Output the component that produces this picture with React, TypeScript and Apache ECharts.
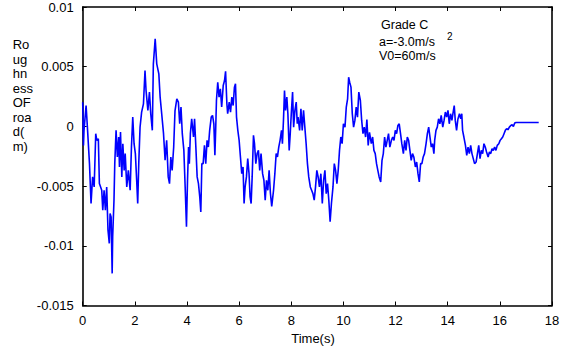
import React, { useEffect, useRef } from "react";
import * as echarts from "echarts";

// Road roughness profile sampled over time (roughness in mm, converted to m below)
const timeS: number[] = [
  0, 0.03, 0.05, 0.13, 0.18, 0.26, 0.32, 0.38, 0.44, 0.5, 0.54, 0.6, 0.64, 0.73, 0.77, 0.82, 0.87, 0.92, 0.97,
  1.02, 1.05, 1.09, 1.13, 1.15, 1.2, 1.23, 1.28, 1.33, 1.38, 1.41, 1.45, 1.5, 1.54, 1.59, 1.63, 1.69, 1.75,
  1.82, 1.87, 1.92, 1.97, 2.02, 2.07, 2.11, 2.15, 2.2, 2.26, 2.33, 2.39, 2.43, 2.5, 2.56, 2.61, 2.67, 2.71,
  2.78, 2.84, 2.92, 2.97, 3.03, 3.1, 3.16, 3.22, 3.28, 3.33, 3.38, 3.43, 3.49, 3.54, 3.61, 3.67, 3.72, 3.77,
  3.82, 3.88, 3.93, 3.98, 4.02, 4.06, 4.09, 4.13, 4.18, 4.25, 4.29, 4.34, 4.39, 4.44, 4.49, 4.53, 4.57, 4.62,
  4.67, 4.72, 4.77, 4.82, 4.87, 4.93, 4.98, 5.03, 5.07, 5.1, 5.13, 5.18, 5.23, 5.28, 5.33, 5.39, 5.44, 5.48,
  5.53, 5.56, 5.62, 5.67, 5.72, 5.77, 5.82, 5.86, 5.9, 5.95, 6.0, 6.05, 6.1, 6.15, 6.19, 6.23, 6.28, 6.33,
  6.38, 6.42, 6.46, 6.5, 6.55, 6.59, 6.64, 6.69, 6.74, 6.79, 6.84, 6.9, 6.95, 7.0, 7.05, 7.1, 7.15, 7.2,
  7.25, 7.32, 7.37, 7.42, 7.47, 7.52, 7.57, 7.625, 7.66, 7.7, 7.74, 7.78, 7.83, 7.87, 7.92, 7.96, 8.0, 8.05,
  8.09, 8.14, 8.19, 8.23, 8.26, 8.32, 8.37, 8.42, 8.47, 8.52, 8.57, 8.62, 8.67, 8.73, 8.78, 8.83, 8.88, 8.93,
  8.98, 9.03, 9.08, 9.135, 9.19, 9.24, 9.29, 9.34, 9.39, 9.44, 9.49, 9.54, 9.6, 9.65, 9.7, 9.75, 9.8, 9.85,
  9.9, 9.95, 10.0, 10.06, 10.11, 10.16, 10.2, 10.24, 10.29, 10.34, 10.39, 10.44, 10.49, 10.54, 10.59, 10.65,
  10.7, 10.75, 10.8, 10.85, 10.9, 10.95, 11.0, 11.07, 11.12, 11.17, 11.22, 11.27, 11.32, 11.37, 11.43, 11.48,
  11.53, 11.58, 11.63, 11.68, 11.73, 11.78, 11.84, 11.89, 11.94, 11.99, 12.04, 12.09, 12.14, 12.19, 12.24,
  12.3, 12.35, 12.4, 12.45, 12.5, 12.55, 12.6, 12.65, 12.7, 12.76, 12.81, 12.86, 12.91, 12.96, 13.01, 13.06,
  13.11, 13.17, 13.22, 13.27, 13.32, 13.37, 13.42, 13.47, 13.5, 13.55, 13.6, 13.65, 13.7, 13.75, 13.81, 13.86,
  13.91, 13.96, 14.01, 14.06, 14.11, 14.16, 14.22, 14.25, 14.29, 14.34, 14.39, 14.45, 14.5, 14.54, 14.57,
  14.62, 14.68, 14.73, 14.78, 14.83, 14.88, 14.93, 14.98, 15.03, 15.09, 15.14, 15.19, 15.24, 15.29, 15.34,
  15.39, 15.44, 15.49, 15.55, 15.6, 15.65, 15.7, 15.75, 15.8, 15.85, 15.9, 15.96, 16.01, 16.06, 16.11, 16.16,
  16.21, 16.26, 16.31, 16.365, 16.42, 16.47, 16.52, 16.57, 16.62, 17.49,
];

const roughnessMm: number[] = [
  2.03, -1.6, -0.33, 1.75, -0.06, -3.12, -6.46, -4.23, -5.07, -0.61, -1.17, -1.03, -4.79, -5.35, -7.02, -5.35,
  -7.02, -5.07, -8.69, -9.8, -7.3, -7.58, -12.31, -9.25, -6.18, -3.12, -0.33, -2.56, -0.89, -3.4, -0.47, -4.23,
  -1.45, -3.68, -2.28, -5.07, -3.68, -5.35, -1.73, 0.78, -1.45, -2.28, -4.51, -6.46, -3.12, -0.06, 1.2, 1.89,
  4.68, 3.01, 1.34, 2.87, 1.06, -0.33, 5.24, 7.33, 5.24, 4.4, 2.45, 1.06, -0.61, -2.84, -1.17, -4.23, -4.79,
  -2.56, -3.68, -1.73, 1.3, 2.31, 2.03, 0.22, 1.62, -0.61, -2.01, -5.07, -8.41, -4.51, -1.73, -3.12, -0.61,
  0.64, -0.89, 0.64, -1.73, -4.23, -4.79, -5.91, -7.16, -3.12, -3.12, -1.59, -3.12, -1.17, -1.73, -0.33, 0.78,
  0.92, 0.22, -2.42, -0.33, 2.17, 3.7, 2.45, 3.15, 1.62, 3.43, 3.84, 4.62, 1.89, 1.06, 2.03, 1.2, 2.45, 1.75,
  3.29, 3.57, 0.78, -0.33, -1.17, -2.56, -3.96, -3.4, -6.46, -5.07, -4.23, -2.7, -3.96, -5.91, -6.46, -4.23,
  -0.75, -1.45, -3.12, -2.28, -2.01, -3.68, -2.28, -3.96, -4.51, -6.18, -4.51, -5.35, -3.68, -5.6, -6.7,
  -5.35, -3.96, -2.28, -2.56, -1.73, -1.17, -0.33, -1.45, 0.5, 3.01, 1.34, 2.45, 1.06, -2.01, -0.61, 1.06,
  2.87, -0.06, 1.34, 2.03, 0.22, 0.78, -0.33, 1.48, -0.33, 1.34, -0.06, -1.45, -3.12, -4.23, -5.07, -5.35,
  -5.63, -6.18, -5.07, -3.68, -4.23, -5.07, -3.96, -6.46, -4.51, -3.68, -5.63, -4.79, -6.18, -7.99, -6.46,
  -5.07, -3.12, -3.68, -4.79, -3.68, -2.01, -0.89, -1.45, 0.22, -0.06, 1.62, 2.31, 4.12, 3.7, 3.29, 1.06,
  -0.06, 0.5, 1.62, 0.78, 2.87, 2.17, 0.5, -0.61, -0.06, -0.89, 0.57, -1.6, -0.5, -1.45, -0.89, -2.01, -2.28,
  -3.12, -3.68, -4.23, -4.65, -2.84, -2.28, -0.89, -1.73, -1.17, -0.61, -1.73, -1.17, -0.89, -1.17, -0.33,
  -0.61, 0.08, 0.22, -0.61, -1.45, -2.28, -1.17, -2.01, -0.89, -1.17, -2.01, -2.84, -2.28, -2.56, -3.4, -2.98,
  -3.96, -4.65, -3.12, -3.12, -2.56, -2.28, -1.45, -0.61, -0.06, -0.89, -1.73, -1.45, -2.28, -1.17, -0.33,
  -0.06, 0.64, 0.22, 0.92, -0.06, 0.5, 1.2, 0.78, 1.34, 0.22, 1.06, 0.5, 1.34, 1.75, 0.5, -0.33, 0.6, 1.06,
  0.64, 1.06, -0.33, -0.89, -1.59, -2.42, -1.73, -2.28, -1.59, -2.28, -2.7, -3.12, -2.98, -2.28, -1.59, -2.7,
  -2.01, -2.28, -1.45, -1.73, -2.15, -2.56, -2.15, -2.28, -1.87, -2.01, -1.73, -2.01, -1.59, -1.45, -1.17,
  -1.03, -0.89, -0.61, -0.33, -0.19, -0.28, -0.06, 0.08, 0.14, 0.0, 0.28, 0.33, 0.33,
];

const xTicks = { min: 0, max: 18, interval: 2 };
const yTicks = { min: -0.015, max: 0.01, interval: 0.005 };

const yAxisTitle = ["Ro", "ug", "hn", "ess", "OF", "roa", "d(", "m)"];
const xAxisTitle = "Time(s)";
const noteLines = ["Grade C", "a=-3.0m/s", "V0=60m/s"];

const FONT = "'Liberation Sans', Arial, sans-serif";

export default function App() {
  const ref = useRef<HTMLDivElement>(null);

  useEffect(() => {
    if (!ref.current) return;
    const chart = echarts.init(ref.current, null, { renderer: "svg" });

    const series = timeS.map((t, i) => [t, roughnessMm[i] / 1000]);

    // Box frame: every axis sits on the plot edge, never on zero
    const axisLine = { show: true, onZero: false, lineStyle: { color: "#000", width: 1.6 } };
    const tick = { show: true, inside: true, length: 4, lineStyle: { color: "#000", width: 1 } };
    const label = { color: "#000", fontSize: 13, fontFamily: FONT };

    chart.setOption({
      animation: false,
      backgroundColor: "#fff",
      grid: {
        left: 82.7,
        right: 12,
        top: 7,
        bottom: 40.5,
        containLabel: false,
        outerBoundsMode: "none",
      },
      xAxis: [
        {
          type: "value",
          ...xTicks,
          position: "bottom",
          axisLine,
          axisTick: tick,
          axisLabel: { ...label, margin: 8 },
          splitLine: { show: false },
        },
        {
          type: "value",
          ...xTicks,
          position: "top",
          axisLine,
          axisTick: tick,
          axisLabel: { show: false },
          splitLine: { show: false },
        },
      ],
      yAxis: [
        {
          type: "value",
          ...yTicks,
          position: "left",
          axisLine,
          axisTick: tick,
          axisLabel: { ...label, margin: 9 },
          splitLine: { show: false },
        },
        {
          type: "value",
          ...yTicks,
          position: "right",
          axisLine,
          axisTick: tick,
          axisLabel: { show: false },
          splitLine: { show: false },
        },
      ],
      series: [
        {
          type: "line",
          data: series,
          xAxisIndex: 0,
          yAxisIndex: 0,
          showSymbol: false,
          symbol: "none",
          lineStyle: { color: "#0000ff", width: 1.6 },
        },
      ],
      graphic: [
        {
          type: "text",
          left: 12.7,
          top: 37.5,
          style: {
            text: yAxisTitle.join("\n"),
            fill: "#000",
            font: `13px ${FONT}`,
            lineHeight: 14.5,
          },
        },
        {
          type: "text",
          x: 313,
          y: 338,
          style: {
            text: xAxisTitle,
            fill: "#000",
            font: `13px ${FONT}`,
            textAlign: "center",
            textVerticalAlign: "middle",
          },
        },
        {
          type: "text",
          x: 381,
          y: 24.5,
          style: { text: noteLines[0], fill: "#000", font: `12.5px ${FONT}`, textVerticalAlign: "middle" },
        },
        {
          type: "text",
          x: 379,
          y: 42,
          style: { text: noteLines[1], fill: "#000", font: `12.5px ${FONT}`, textVerticalAlign: "middle" },
        },
        {
          type: "text",
          x: 447,
          y: 36.5,
          style: { text: "2", fill: "#000", font: `10px ${FONT}`, textVerticalAlign: "middle" },
        },
        {
          type: "text",
          x: 379,
          y: 56,
          style: { text: noteLines[2], fill: "#000", font: `12.5px ${FONT}`, textVerticalAlign: "middle" },
        },
      ],
    });

    return () => chart.dispose();
  }, []);

  return (
    <div
      ref={ref}
      style={{ position: "absolute", left: 0, top: 0, width: 564, height: 346, background: "#fff" }}
    />
  );
}
